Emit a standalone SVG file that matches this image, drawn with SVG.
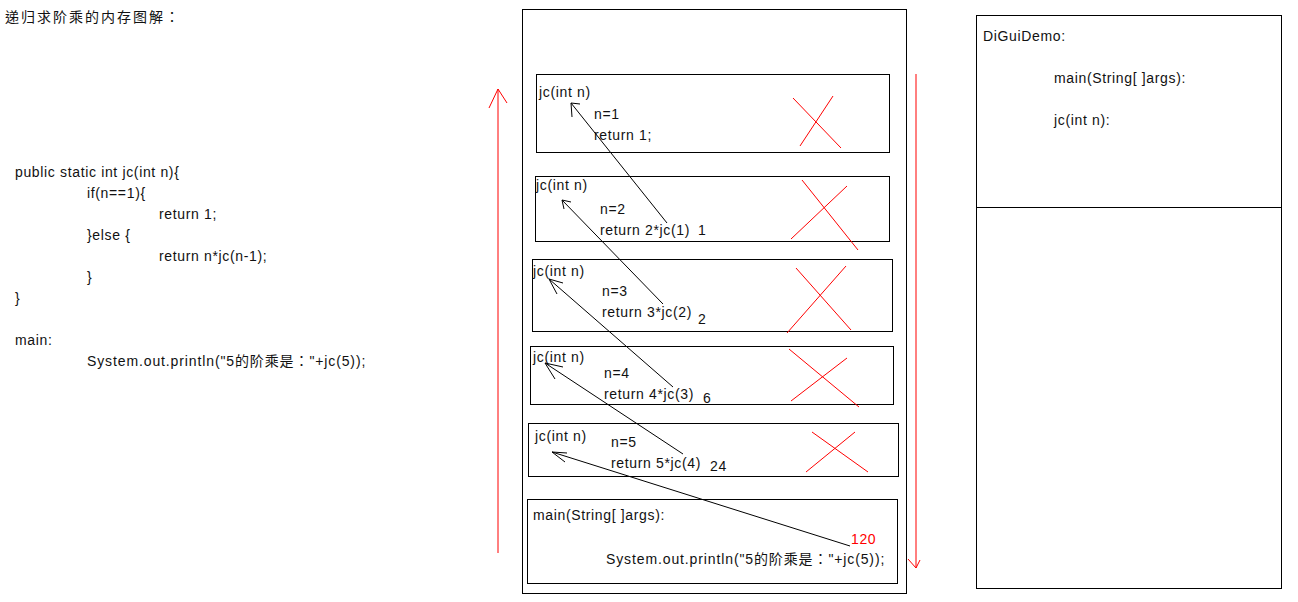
<svg xmlns="http://www.w3.org/2000/svg" width="1298" height="602" viewBox="0 0 1298 602">
<style>
text{font-family:"Liberation Sans","Noto Sans CJK TC",Arial,sans-serif;font-size:14px;fill:#111;letter-spacing:0.65px}
.box{fill:none;stroke:#000;stroke-width:1}
.red{stroke:#f00;stroke-width:1;fill:none}
.blk{stroke:#000;stroke-width:1;fill:none}
.rt{fill:#f00}
.ttl{letter-spacing:2px}
</style>
<rect width="1298" height="602" fill="#fff"/>
<g id="title"><text class="ttl" x="5" y="22">递归求阶乘的内存图解：</text></g>
<g id="code">
<text x="15" y="177">public static int jc(int n){</text>
<text x="87" y="198">if(n==1){</text>
<text x="159" y="219">return 1;</text>
<text x="87" y="240">}else {</text>
<text x="159" y="261">return n*jc(n-1);</text>
<text x="87" y="282">}</text>
<text x="15" y="303">}</text>
<text x="15" y="345">main:</text>
<text x="87" y="366" textLength="279" lengthAdjust="spacing">System.out.println("5的阶乘是："+jc(5));</text>
</g>
<g id="stack">
<rect class="box" x="522.5" y="9.5" width="384" height="584"/>
</g>
<g id="frame1">
<rect class="box" x="536.5" y="74.5" width="353" height="78"/>
<text x="539" y="97">jc(int n)</text>
<text x="594" y="119">n=1</text>
<text x="594" y="140">return 1;</text>
<path class="red" d="M793,98 L841,148 M833,96 L800,146"/>
</g>
<g id="frame2">
<rect class="box" x="535.5" y="176.5" width="354" height="65"/>
<text x="536" y="190">jc(int n)</text>
<text x="600" y="214">n=2</text>
<text x="600" y="235">return 2*jc(1)</text>
<text x="698" y="235">1</text>
<path class="red" d="M802,180 L858,250 M847,186 L791,239"/>
</g>
<g id="frame3">
<rect class="box" x="532.5" y="259.5" width="360" height="72"/>
<text x="533" y="276">jc(int n)</text>
<text x="602" y="296">n=3</text>
<text x="602" y="317">return 3*jc(2)</text>
<text x="698" y="324">2</text>
<path class="red" d="M796,268 L851,330 M846,266 L787,333"/>
</g>
<g id="frame4">
<rect class="box" x="530.5" y="346.5" width="363" height="58"/>
<text x="533" y="362">jc(int n)</text>
<text x="604" y="378">n=4</text>
<text x="604" y="399">return 4*jc(3)</text>
<text x="703" y="403">6</text>
<path class="red" d="M789,349 L859,407 M847,358 L791,401"/>
</g>
<g id="frame5">
<rect class="box" x="528.5" y="423.5" width="370" height="53"/>
<text x="535" y="441">jc(int n)</text>
<text x="611" y="447">n=5</text>
<text x="611" y="468">return 5*jc(4)</text>
<text x="710" y="471">24</text>
<path class="red" d="M812,432 L868,472 M855,432 L806,472"/>
</g>
<g id="mainframe">
<rect class="box" x="527.5" y="499.5" width="370" height="84"/>
<text x="533" y="520">main(String[ ]args):</text>
<text class="rt" x="851" y="544">120</text>
<text x="606" y="564" textLength="279" lengthAdjust="spacing">System.out.println("5的阶乘是："+jc(5));</text>
</g>
<g id="methodarea">
<rect class="box" x="976.5" y="15.5" width="305" height="573"/>
<line class="blk" x1="976.5" y1="207.5" x2="1281.5" y2="207.5"/>
<text x="983" y="41">DiGuiDemo:</text>
<text x="1054" y="83">main(String[ ]args):</text>
<text x="1054" y="125">jc(int n):</text>
</g>
<g id="connectors">
<path class="blk" d="M667,223 L571,103 M580,104 L571,103 L572,117"/>
<path class="blk" d="M663,304 L562,200 M571,202 L562,200 L564,209"/>
<path class="blk" d="M673,387 L549,279 M563,283 L549,279 L557,294"/>
<path class="blk" d="M683,454 L545,363 M563,367 L545,363 L555,379"/>
<path class="blk" d="M850,546 L552,452 M567,453 L552,452 L565,462"/>
<path class="red" d="M498,553 L498,89 M489,108 L498,89 L507,103"/>
<path class="red" d="M916,74 L916,568 M908,559 L916,568 L920,560"/>
</g>
</svg>
